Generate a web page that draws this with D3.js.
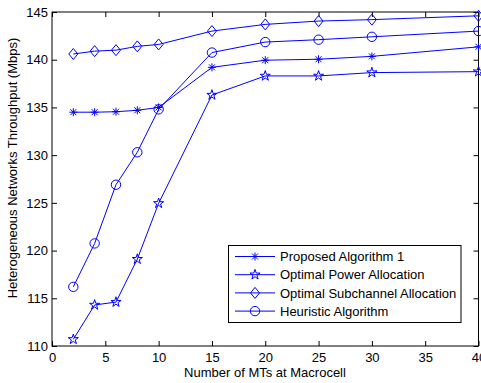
<!DOCTYPE html>
<html>
<head>
<meta charset="utf-8">
<script src="https://d3js.org/d3.v7.min.js"></script>
<style>
  body { margin: 0; background: #fff; }
  text { font-family: "Liberation Sans", Arial, sans-serif; }
</style>
</head>
<body>
<svg width=481 height=383></svg>
<script>
var users = [2, 4, 6, 8, 10, 15, 20, 25, 30, 40]
var proposed = [134.5, 134.5, 134.55, 134.7, 135.0, 139.2, 139.95, 140.05, 140.35, 141.35]
var powerAlloc = [110.7, 114.3, 114.6, 119.1, 124.95, 136.3, 138.3, 138.3, 138.65, 138.75]
var subchannel = [140.6, 140.9, 141.0, 141.4, 141.6, 143.0, 143.7, 144.05, 144.2, 144.6]
var heuristic = [116.2, 120.75, 126.9, 130.3, 134.8, 140.75, 141.85, 142.1, 142.4, 143.0]
var seriesNames = ["Proposed Algorithm 1", "Optimal Power Allocation", "Optimal Subchannel Allocation", "Heuristic Algorithm"]
var xTicks = [0, 5, 10, 15, 20, 25, 30, 35, 40]
var yTicks = [110, 115, 120, 125, 130, 135, 140, 145]

var blue = "#0000ff"
var svg = d3.select("svg")

var x = d3.scaleLinear().domain([0, 40]).range([52, 478.5])
var y = d3.scaleLinear().domain([110, 145]).range([346, 12])

// axes, ticks pointing inward like matlab
svg.append("g")
  .attr("transform", "translate(0,346)")
  .call(d3.axisBottom(x).tickValues(xTicks).tickSizeInner(-5).tickSizeOuter(0).tickPadding(7))
  .call(g => g.select(".domain").remove())
svg.append("g")
  .attr("transform", "translate(0,12)")
  .call(d3.axisTop(x).tickValues(xTicks).tickSizeInner(-5).tickSizeOuter(0).tickFormat(""))
  .call(g => g.select(".domain").remove())
svg.append("g")
  .attr("transform", "translate(52,0)")
  .call(d3.axisLeft(y).tickValues(yTicks).tickSizeInner(-5).tickSizeOuter(0).tickPadding(4))
  .call(g => g.select(".domain").remove())
svg.append("g")
  .attr("transform", "translate(478.5,0)")
  .call(d3.axisRight(y).tickValues(yTicks).tickSizeInner(-5).tickSizeOuter(0).tickFormat(""))
  .call(g => g.select(".domain").remove())

svg.selectAll(".tick text").attr("font-size", 13).attr("fill", "#000")
  .attr("font-family", "Liberation Sans, Arial, sans-serif")
svg.selectAll(".tick line").attr("stroke", "#000")

svg.append("rect")
  .attr("x", 52).attr("y", 12)
  .attr("width", 478.5 - 52).attr("height", 346 - 12)
  .attr("fill", "none").attr("stroke", "#000").attr("stroke-width", 1)

// marker shapes
function marker(g, kind) {
  if (kind == 0) {
    g.append("path").attr("d", "M-4,0H4M0,-4V4M-3,-3L3,3M-3,3L3,-3")
      .attr("stroke", blue).attr("fill", "none")
  } else if (kind == 1) {
    g.append("path").attr("d", d3.symbol().type(d3.symbolStar).size(32)())
      .attr("stroke", blue).attr("fill", "none")
  } else if (kind == 2) {
    g.append("path").attr("d", "M0,-5.5L4.5,0L0,5.5L-4.5,0Z")
      .attr("stroke", blue).attr("fill", "none")
  } else {
    g.append("circle").attr("r", 4.7)
      .attr("stroke", blue).attr("fill", "none")
  }
}

var allSeries = [proposed, powerAlloc, subchannel, heuristic]
var line = d3.line().x((d, i) => x(users[i])).y(d => y(d))

allSeries.forEach(function(vals, k) {
  svg.append("path")
    .attr("d", line(vals))
    .attr("fill", "none")
    .attr("stroke", blue)
    .attr("stroke-width", 1)
  vals.forEach(function(v, i) {
    var g = svg.append("g").attr("transform", "translate(" + x(users[i]) + "," + y(v) + ")")
    marker(g, k)
  })
})

// legend
var leg = svg.append("g")
leg.append("rect")
  .attr("x", 228.5).attr("y", 245.5).attr("width", 232.5).attr("height", 77)
  .attr("fill", "#fff").attr("stroke", "#000").attr("stroke-width", 1)
seriesNames.forEach(function(name, k) {
  var ly = 256.5 + k * 18.2
  leg.append("line").attr("x1", 235).attr("x2", 275).attr("y1", ly).attr("y2", ly)
    .attr("stroke", blue)
  marker(leg.append("g").attr("transform", "translate(255," + ly + ")"), k)
  leg.append("text").attr("x", 280).attr("y", ly + 4.6)
    .attr("font-size", 13).text(name)
})

// axis titles
svg.append("text")
  .attr("x", 265).attr("y", 376.5)
  .attr("text-anchor", "middle").attr("font-size", 13)
  .text("Number of MTs at Macrocell")
svg.append("text")
  .attr("transform", "translate(17,168) rotate(-90)")
  .attr("text-anchor", "middle").attr("font-size", 13)
  .text("Heterogeneous Networks Throughput (Mbps)")
</script>
</body>
</html>
